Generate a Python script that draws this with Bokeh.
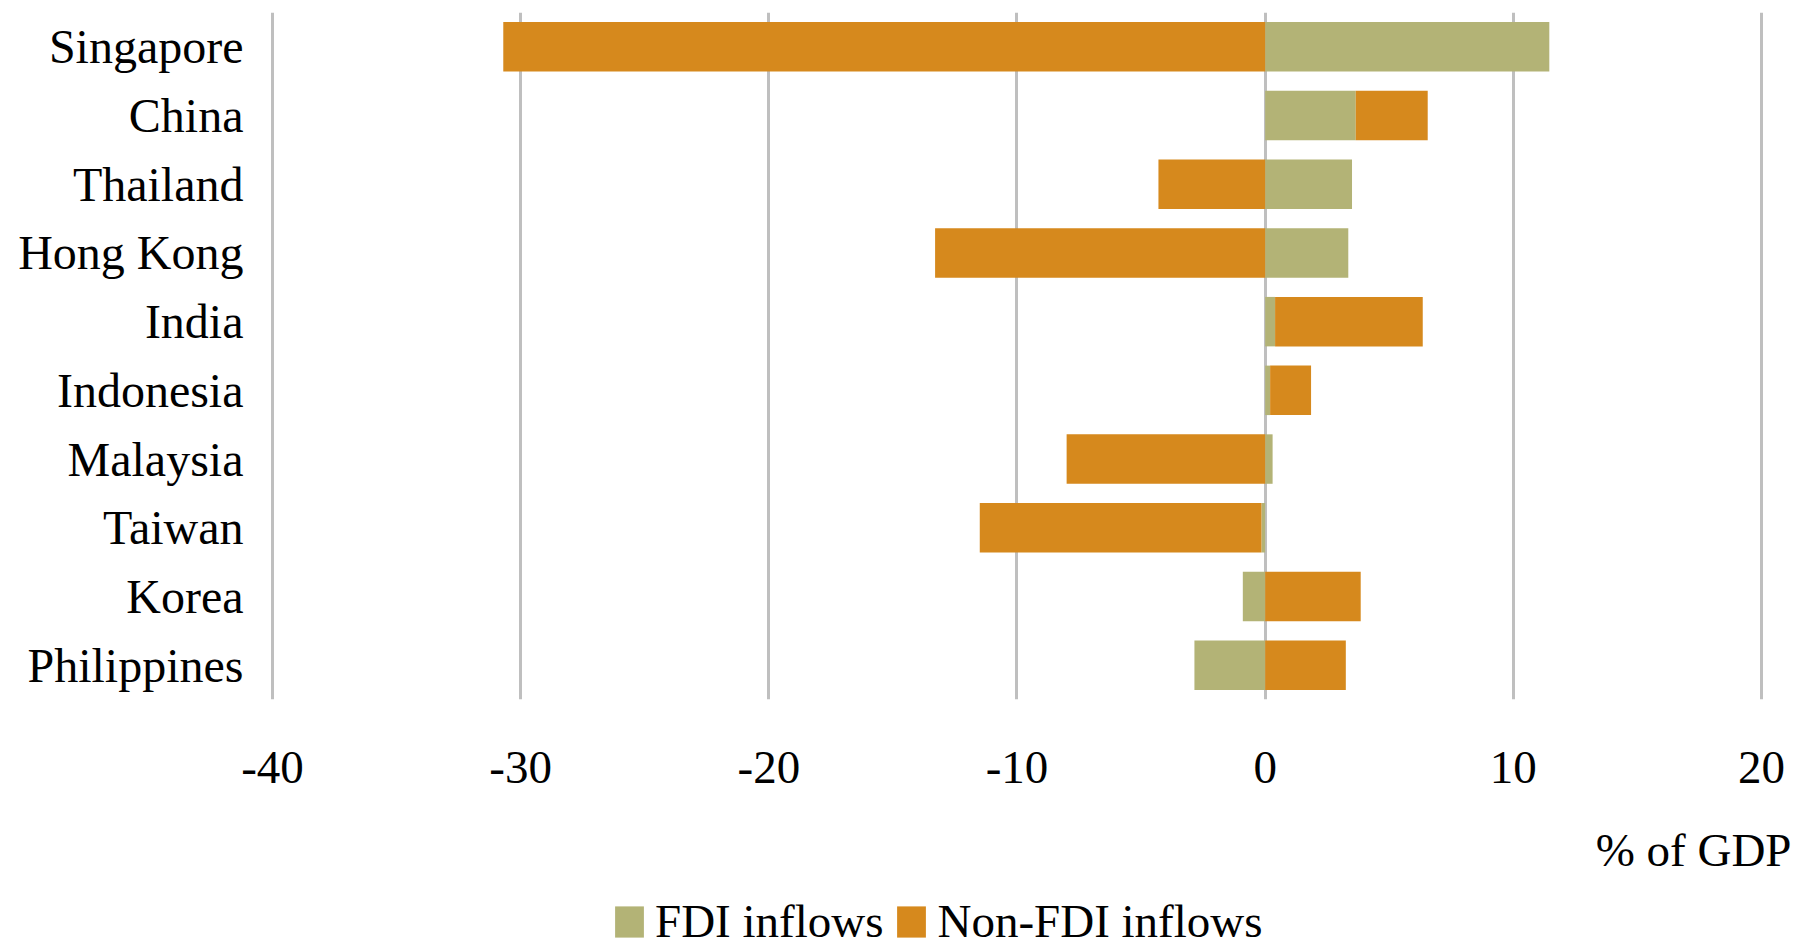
from bokeh.plotting import figure
from bokeh.layouts import column
from bokeh.models import (ColumnDataSource, FactorRange, Range1d, FixedTicker,
                          Legend, LegendItem, Label)
from bokeh.embed import file_html
from bokeh.resources import INLINE

# Capital inflows by economy, % of GDP
countries = ["Singapore", "China", "Thailand", "Hong Kong", "India",
             "Indonesia", "Malaysia", "Taiwan", "Korea", "Philippines"]
fdi_inflows = [11.45, 3.65, 3.5, 3.35, 0.4, 0.2, 0.3, -0.15, -0.9, -2.85]
non_fdi_inflows = [-30.7, 2.9, -4.3, -13.3, 5.95, 1.65, -8.0, -11.35, 3.85, 3.25]
x_ticks = [-40, -30, -20, -10, 0, 10, 20]
series_names = ["FDI inflows", "Non-FDI inflows"]
unit_label = "% of GDP"

FONT = "Liberation Serif"
FS = "47px"
GREEN = "#b3b376"
ORANGE = "#d6891d"

# Stack positives on positives and negatives on negatives
fdi_left = [min(0, v) for v in fdi_inflows]
fdi_right = [max(0, v) for v in fdi_inflows]
nf_left, nf_right = [], []
for f, n in zip(fdi_inflows, non_fdi_inflows):
    base = f if (f >= 0) == (n >= 0) else 0.0
    nf_left.append(min(base, base + n))
    nf_right.append(max(base, base + n))

src = ColumnDataSource(dict(country=countries,
                            fdi_left=fdi_left, fdi_right=fdi_right,
                            nf_left=nf_left, nf_right=nf_right))

# frame runs to the right page edge so the unit label below has room
PAGE_W = 1812
FRAME_LEFT = 269
FRAME_W = PAGE_W - FRAME_LEFT
PX_PER_UNIT = 24.817
X_MIN = -40.12
X_MAX = X_MIN + FRAME_W / PX_PER_UNIT

# ---- main bar chart ----
p = figure(frame_width=FRAME_W, frame_height=687,
           y_range=FactorRange(*reversed(countries)),
           x_range=Range1d(X_MIN, X_MAX),
           output_backend="svg", toolbar_location=None,
           min_border_left=FRAME_LEFT, min_border_right=0,
           min_border_top=12, min_border_bottom=111)
p.outline_line_color = None
p.background_fill_color = "white"
p.border_fill_color = "white"

p.hbar(y="country", left="fdi_left", right="fdi_right", height=0.72,
       source=src, fill_color=GREEN, line_color=None)
p.hbar(y="country", left="nf_left", right="nf_right", height=0.72,
       source=src, fill_color=ORANGE, line_color=None)

p.xaxis.ticker = FixedTicker(ticks=x_ticks)
p.xaxis.major_label_overrides = {t: str(t) for t in x_ticks}
p.xaxis.axis_line_color = None
p.xaxis.major_tick_line_color = None
p.xaxis.minor_tick_line_color = None
p.xaxis.major_tick_out = 0
p.xaxis.major_tick_in = 0
p.xaxis.major_label_text_font = FONT
p.xaxis.major_label_text_font_size = FS
p.xaxis.major_label_text_color = "black"
p.xaxis.major_label_standoff = 52

p.yaxis.axis_line_color = None
p.yaxis.major_tick_line_color = None
p.yaxis.major_tick_out = 0
p.yaxis.major_tick_in = 0
p.yaxis.major_label_text_font = FONT
p.yaxis.major_label_text_font_size = "48px"
p.yaxis.major_label_text_color = "black"
p.yaxis.major_label_standoff = 26

p.ygrid.grid_line_color = None
p.xgrid.ticker = FixedTicker(ticks=x_ticks)
p.xgrid.grid_line_color = "#bfbfbf"
p.xgrid.grid_line_width = 3

# ---- strip underneath: unit label and legend, in page pixel coordinates ----
strip_top, strip_bottom = 810, 946
q = figure(frame_width=FRAME_W, frame_height=strip_bottom - strip_top,
           x_range=Range1d(FRAME_LEFT, PAGE_W),
           y_range=Range1d(strip_bottom, strip_top),
           x_axis_location=None, y_axis_location=None,
           output_backend="svg", toolbar_location=None,
           min_border_left=FRAME_LEFT, min_border_right=0,
           min_border_top=0, min_border_bottom=0)
q.outline_line_color = None
q.grid.visible = False
q.border_fill_color = "white"

q.add_layout(Label(x=1791, y=849, text=unit_label, text_align="right",
                   text_baseline="middle", text_font=FONT, text_font_size=FS,
                   text_color="black"))

# legend swatches share the bar styling; categories fall outside this strip's numeric range
sw_fdi = q.hbar(y="country", left="fdi_left", right="fdi_right", height=0.72,
                source=src, fill_color=GREEN, line_color=None)
sw_nf = q.hbar(y="country", left="nf_left", right="nf_right", height=0.72,
               source=src, fill_color=ORANGE, line_color=None)
legend = Legend(items=[LegendItem(label=series_names[0], renderers=[sw_fdi]),
                       LegendItem(label=series_names[1], renderers=[sw_nf])],
                orientation="horizontal", location=(611 - FRAME_LEFT, -2),
                border_line_color=None, background_fill_alpha=0,
                label_text_font=FONT, label_text_font_size=FS,
                label_text_color="black",
                glyph_width=36, glyph_height=39, label_standoff=8,
                spacing=10, padding=0, margin=0)
q.add_layout(legend, "center")

open("out.html", "w").write(file_html(column(p, q, spacing=0), INLINE))
